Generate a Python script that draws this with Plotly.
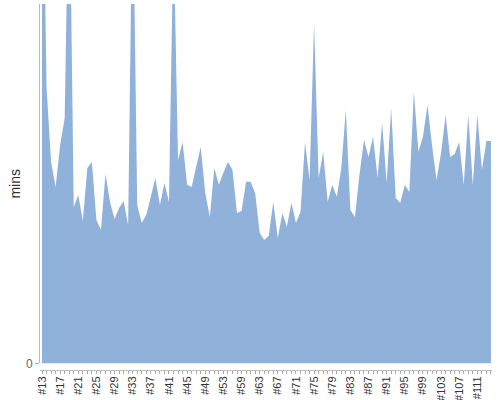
import plotly.graph_objects as go

categories = (["#%d" % n for n in range(13, 54)] + ["#54", "#56", "#57"]
              + ["#%d" % n for n in range(59, 115)])

mins = [97.3, 46.1, 33.6, 29.4, 36.4, 40.9, 85.6, 26.1, 28.1, 23.8,
        32.6, 33.6, 23.9, 22.3, 31.6, 26.9, 24.1, 25.9, 27.1, 23.1,
        82.3, 26.4, 23.4, 24.8, 27.8, 30.9, 26.4, 30.1, 26.9, 72.3,
        33.9, 36.9, 29.8, 29.4, 32.8, 36.1, 28.4, 24.4, 32.6, 29.8,
        31.8, 33.6, 32.3, 25.1, 25.4, 30.3, 30.3, 28.4, 21.8, 20.6,
        21.3, 26.9, 20.9, 25.1, 22.8, 26.8, 23.4, 25.3, 36.9, 30.6,
        56.8, 30.9, 35.3, 26.9, 29.8, 27.8, 32.6, 42.3, 25.6, 24.4,
        31.4, 37.3, 34.4, 37.8, 30.9, 40.1, 30.1, 42.6, 27.6, 26.8,
        29.8, 28.6, 45.3, 35.3, 37.8, 43.1, 36.4, 30.6, 35.1, 41.4,
        34.4, 34.9, 36.9, 29.8, 41.4, 29.8, 41.4, 32.3, 37.1, 37.1]

y_ticks = [0]
label_every = 4

idx = list(range(len(categories)))

fig = go.Figure(go.Scatter(
    x=idx, y=mins, mode="lines", fill="tozeroy",
    line=dict(width=0, color="#90B1DA"),
    fillcolor="#90B1DA", hoverinfo="skip"))

fig.update_layout(
    width=500, height=400,
    margin=dict(l=40, r=8, t=4, b=30, autoexpand=False),
    paper_bgcolor="white", plot_bgcolor="white",
    showlegend=False,
    font=dict(family="Liberation Sans, Arial, sans-serif", color="#333"),
    xaxis=dict(
        range=[-0.44, 99.23],
        anchor="free", position=0,
        automargin=False,
        tickmode="array",
        tickvals=idx[::label_every],
        ticktext=categories[::label_every],
        tickangle=-90,
        ticks="outside", ticklen=3, tickcolor="#aaa",
        ticklabelstandoff=-2,
        minor=dict(tickmode="array", tickvals=idx, ticks="outside",
                   ticklen=3, tickcolor="#aaa"),
        showline=True, linecolor="#bbb", linewidth=1,
        showgrid=False, zeroline=False,
        tickfont=dict(size=11, color="#333"),
    ),
    yaxis=dict(
        domain=[0.01776, 1],
        range=[0, 59.92],
        automargin=False,
        tickmode="array", tickvals=y_ticks,
        ticks="outside", ticklen=4, tickcolor="#aaa",
        showline=True, linecolor="#bbb", linewidth=1,
        showgrid=False, zeroline=False,
        tickfont=dict(size=12, color="#666"),
        title=dict(text="mins", font=dict(size=14, color="#333"), standoff=1),
    ),
)

fig.write_html("out.html", config={"displayModeBar": False},
               post_script="document.body.style.margin='0';")
